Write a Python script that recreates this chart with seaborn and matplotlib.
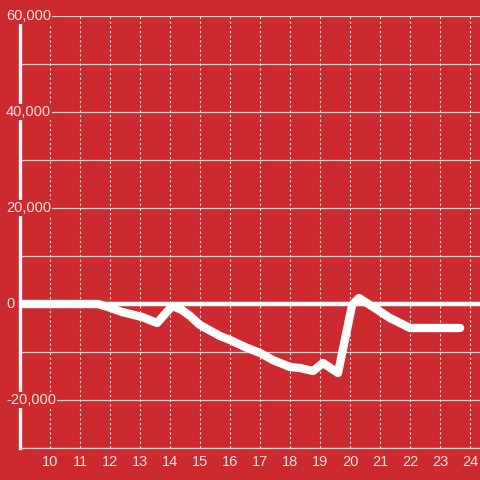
import matplotlib
matplotlib.use("Agg")
import matplotlib.pyplot as plt
import seaborn as sns
import pandas as pd

# hour of day vs. cumulative value
hours = [9.0, 11.6, 11.93, 12.4, 13.07, 13.57, 14.07, 14.4, 14.67, 15.0,
         15.67, 16.0, 16.5, 17.0, 17.43, 18.0, 18.33, 18.77, 19.1, 19.6,
         20.07, 20.3, 20.77, 21.33, 21.67, 22.0, 23.67]
values = [0, 0, -625, -1670, -2710, -3960, -420, -1250, -2500, -4375,
          -6670, -7500, -8960, -10200, -11670, -13125, -13330, -13960, -12290, -14375,
          -210, 1250, -625, -2920, -3960, -5000, -5000]

x_ticks = list(range(10, 25))
y_grid = list(range(-30000, 60001, 10000))
y_labels = [-20000, 0, 20000, 40000, 60000]

bg = "#cc2a2f"
txt = "#f5e1e1"

sns.set_style("white")
plt.rcParams["font.family"] = ["Liberation Sans", "DejaVu Sans"]

df = pd.DataFrame({"hour": hours, "value": values})

fig = plt.figure(figsize=(4.8, 4.8), dpi=100, facecolor=bg)
ax = fig.add_axes([20 / 480, 32 / 480, 460 / 480, 432 / 480])
ax.set_facecolor(bg)

ax.set_xlim(9, 24.333)
ax.set_ylim(-30000, 60000)

# grid
ax.set_yticks(y_grid)
ax.set_yticklabels([])
ax.grid(axis="y", color="#e4dcdc", linewidth=0.9, zorder=1)
for h in x_ticks:
    ax.axvline(h, color="#eee4e4", linewidth=0.8, linestyle=(0, (2, 2.2)), zorder=1)
ax.axhline(0, color="white", linewidth=3.2, zorder=2)

sns.lineplot(data=df, x="hour", y="value", ax=ax, color="white",
             linewidth=6, zorder=4, solid_joinstyle="round")

ax.set_xticks(x_ticks)
ax.set_xticklabels([str(h) for h in x_ticks])
ax.tick_params(axis="x", length=0, pad=5, labelsize=10.5, labelcolor=txt)
ax.tick_params(axis="y", length=0)
ax.set_xlabel("")
ax.set_ylabel("")

for s in ["top", "right"]:
    ax.spines[s].set_visible(False)
ax.spines["bottom"].set_color("#e4dcdc")
ax.spines["bottom"].set_linewidth(0.9)
ax.spines["left"].set_color("white")
ax.spines["left"].set_linewidth(2.4)
ax.spines["left"].set_bounds(-30000, 58300)

trans = ax.get_yaxis_transform()
for v in y_labels:
    ax.text(-14 / 460, v, f"{v:,}", transform=trans, ha="left", va="center",
            fontsize=10.5, color=txt, zorder=6, clip_on=False,
            bbox=dict(facecolor=bg, edgecolor="none", pad=0.6))

fig.savefig("out.png", dpi=100, facecolor=bg)
